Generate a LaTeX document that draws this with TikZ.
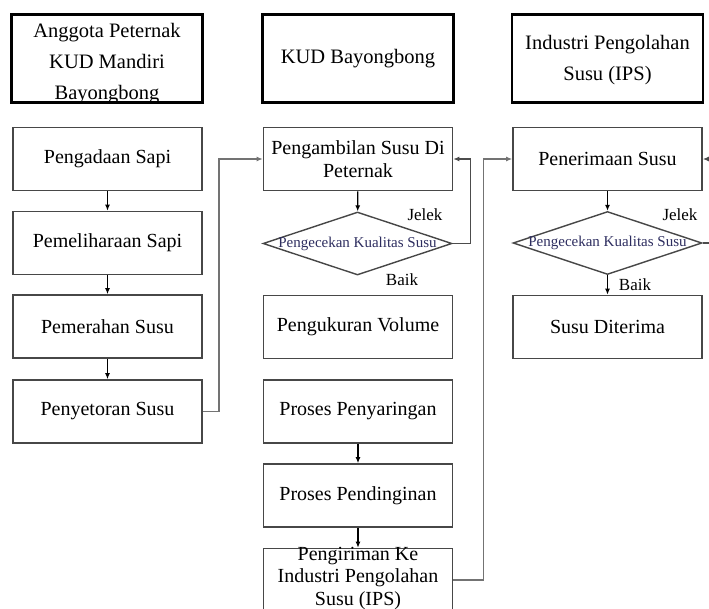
\documentclass[tikz,border=0pt]{standalone}
\usepackage{fontspec}
\setmainfont{Liberation Serif}
\usetikzlibrary{arrows.meta,shapes.geometric}
\definecolor{dtext}{RGB}{45,45,95}
\begin{document}
\begin{tikzpicture}[x=1pt,y=-1pt,
  box/.style={draw=black!72,line width=1.6pt,rectangle,minimum width=189pt,minimum height=63pt,inner sep=0pt,align=center,font=\fontsize{20}{22.5}\selectfont},
  head/.style={draw=black,line width=2.6pt,rectangle,minimum width=191pt,minimum height=88pt,inner sep=0pt},
  headtext/.style={align=center,font=\fontsize{20.5}{31}\selectfont,inner sep=0pt},
  dia/.style={draw=black!72,line width=1.4pt,diamond,minimum width=189pt,minimum height=63pt,inner sep=0pt},
  diatext/.style={font=\fontsize{15}{17}\selectfont,text=dtext,inner sep=0pt},
  lab/.style={font=\fontsize{17}{19}\selectfont,inner sep=0pt},
  arr/.style={draw=black,line width=1.3pt,-{Latex[length=6pt,width=5pt]}},
  conn/.style={draw=black!55,line width=1.6pt,-{Latex[length=6pt,width=5pt]}},
  fb/.style={draw=black!70,line width=1.4pt,-{Latex[length=6pt,width=5pt]}}]
\useasboundingbox (0,0) rectangle (709,608);
% headers
\node[head] (h1) at (107,58.5) {};
\node[headtext] (h1t) at (107,64) {Anggota Peternak\\KUD Mandiri\\Bayongbong};
\node[head] (h2) at (358,58.5) {};
\node[headtext] (h2t) at (358,59) {KUD Bayongbong};
\node[head] (h3) at (607.5,58.5) {};
\node[headtext] (h3t) at (607.5,60) {Industri Pengolahan\\Susu (IPS)};
% left column
\node[box] (a1) at (107.5,159) {Pengadaan Sapi};
\node[box] (a2) at (107.5,243) {Pemeliharaan Sapi};
\node[box] (a3) at (107.5,326.5) {Pemerahan Susu};
\node[box] (a4) at (107.5,411.5) {Penyetoran Susu};
% middle column
\node[box] (b1) at (358,159) {Pengambilan Susu Di\\Peternak};
\node[dia] (b2) at (357.5,243.5) {};
\node[diatext] (b2t) at (357.5,243.5) {Pengecekan Kualitas Susu};
\node[box] (b3) at (358,327) {Pengukuran Volume};
\node[box] (b4) at (358,411.5) {Proses Penyaringan};
\node[box] (b5) at (358,495.5) {Proses Pendinginan};
\node[box] (b6) at (358,580) {};
\node[align=center,inner sep=0pt,font=\fontsize{20}{22.5}\selectfont] (b6t) at (358,578) {Pengiriman Ke\\Industri Pengolahan\\Susu (IPS)};
% right column
\node[box] (c1) at (607.5,159) {Penerimaan Susu};
\node[dia] (c2) at (607.5,243) {};
\node[diatext] (c2t) at (607.5,243) {Pengecekan Kualitas Susu};
\node[box] (c3) at (607.5,327) {Susu Diterima};
% labels
\node[lab] (j1) at (425,215) {Jelek};
\node[lab] (k1) at (402,280) {Baik};
\node[lab] (j2) at (680,215) {Jelek};
\node[lab] (k2) at (635,285) {Baik};
% short arrows
\draw[arr] (a1) -- (a2);
\draw[arr] (a2) -- (a3);
\draw[arr] (a3) -- (a4);
\draw[arr] (b1) -- (b2);
\draw[arr] (b4) -- (b5);
\draw[arr] (b5) -- (b6);
\draw[arr] (c1) -- (c2);
\draw[arr] (c2) -- (c3);
% long connectors
\draw[conn] (a4.east) -- ++(16,0) |- (b1.west);
\draw[conn] (b6.east) -- ++(30,0) |- (c1.west);
% feedback loops
\draw[fb] (b2.east) -- ++(18,0) |- (b1.east);
\draw[fb] (c2.east) -- ++(12,0) |- (c1.east);
\end{tikzpicture}
\end{document}
